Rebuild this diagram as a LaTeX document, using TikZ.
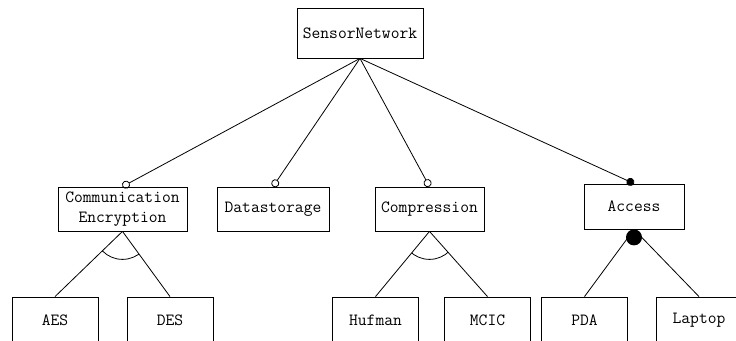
\documentclass[tikz,border=0pt]{standalone}
\usepackage{tikz}
\usetikzlibrary{arrows.meta}
\tikzset{
  rootbox/.style={draw=black,line width=.6pt,minimum width=94.5pt,minimum height=37.5pt,inner sep=2pt,font=\fontsize{12.8pt}{15pt}\selectfont\ttfamily},
  feature/.style={draw=black,line width=.6pt,align=center,minimum height=33pt,inner sep=2pt,font=\fontsize{12.8pt}{15pt}\selectfont\ttfamily},
  leafbox/.style={draw=black,line width=.6pt,minimum width=64.5pt,minimum height=34.5pt,inner sep=2pt,font=\fontsize{12.8pt}{15pt}\selectfont\ttfamily},
  optional/.style={-{Circle[open,length=6pt,line width=.6pt]},line width=.6pt},
  mandatory/.style={-{Circle[length=6pt]},line width=.6pt},
  treeline/.style={line width=.6pt},
}

\begin{document}
\begin{tikzpicture}[x=0.75pt,y=-0.75pt]
		\useasboundingbox (0,0) rectangle (736,341);
		\clip (0,0) rectangle (736,341);
		\node[rootbox] (root) at (360,33) {SensorNetwork};
		\node[feature,minimum width=96.75pt] (comm) at (122.5,209) {Communication\\Encryption};
		\node[feature,minimum width=84pt] (store) at (273,209) {Datastorage};
		\node[feature,minimum width=81.75pt] (compr) at (429.5,209) {Compression};
		\node[feature,minimum width=75pt,minimum height=33.75pt] (access) at (634,206.5) {Access};
		\node[leafbox] (aes) at (55,320) {AES};
		\node[leafbox] (des) at (170,320) {DES};
		\node[leafbox] (hufman) at (375.5,320) {Hufman};
		\node[leafbox] (mcic) at (487.5,320) {MCIC};
		\node[leafbox] (pda) at (584.5,320) {PDA};
		\node[leafbox] (laptop) at (699,320) {Laptop};
		\draw[optional] (root.south)--(comm.north);
		\draw[optional] (root.south)--(store.north);
		\draw[optional] (root.south)--(compr.north);
		\draw[mandatory] (root.south)--(access.north);
		\draw[treeline] (comm.south)--(aes.north); \draw[treeline] (comm.south)--(des.north);
		\draw[treeline] (compr.south)--(hufman.north); \draw[treeline] (compr.south)--(mcic.north);
		\draw[treeline] (access.south)--(pda.north); \draw[treeline] (access.south)--(laptop.north);
		% group arcs
		\begin{scope}
			\clip (comm.south)--(aes.north)--(des.north)--cycle;
			\draw[treeline] (comm.south) circle[radius=21pt];
		\end{scope}
		\begin{scope}
			\clip (compr.south)--(hufman.north)--(mcic.north)--cycle;
			\draw[treeline] (compr.south) circle[radius=21pt];
		\end{scope}
		\begin{scope}
			\clip (access.south)--(pda.north)--(laptop.north)--cycle;
			\fill (access.south) circle[radius=8.5pt];
		\end{scope}
		\fill ([yshift=-6pt]access.south) circle[radius=6pt];
	\end{tikzpicture}
\end{document}
